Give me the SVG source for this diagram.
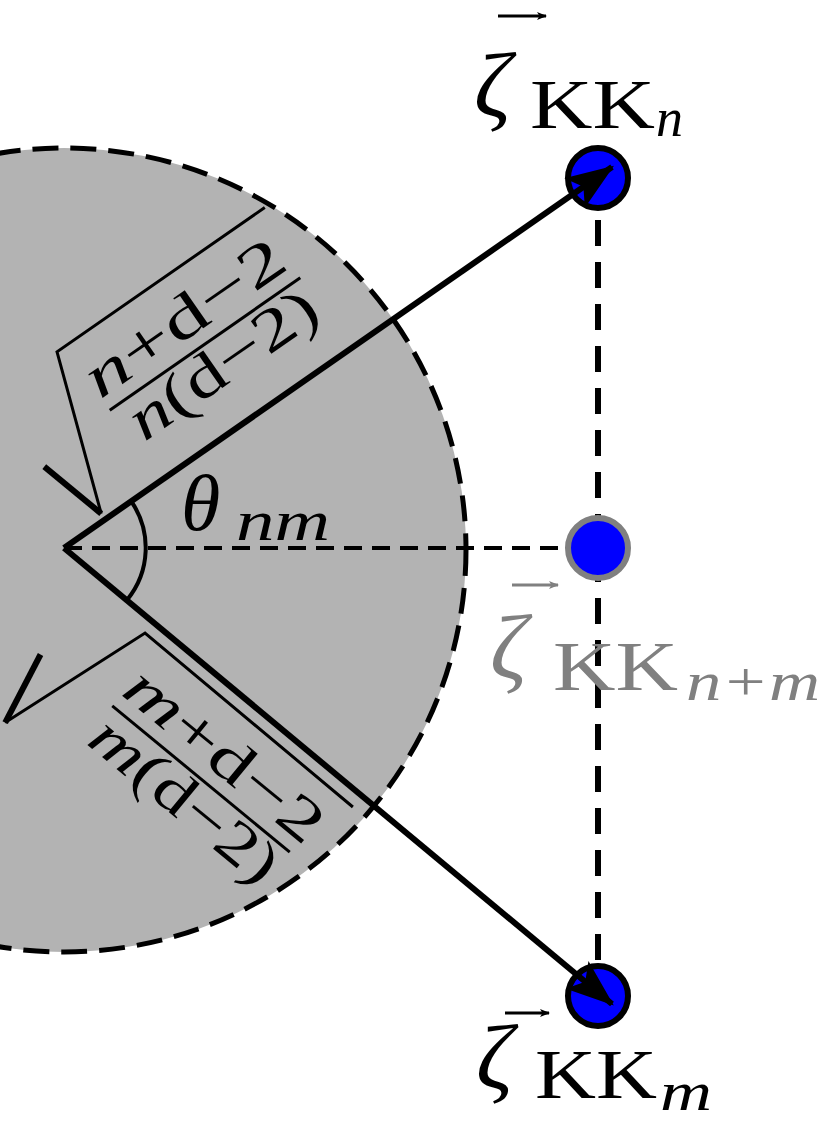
<svg xmlns="http://www.w3.org/2000/svg" width="830" height="1142" viewBox="0 0 830 1142">
<style>
.t{font-family:"Liberation Serif","DejaVu Serif",serif;fill:#000}
.g{fill:#808080}
.i{font-style:italic}
.rad{fill:none;stroke:#000;stroke-width:3;stroke-linejoin:miter}
.dot{fill:#0000ff;stroke:#000;stroke-width:6}
</style>
<defs>
<marker id="ah" viewBox="0 0 20 16" refX="18" refY="8" markerWidth="10" markerHeight="8" markerUnits="userSpaceOnUse" orient="auto">
<path d="M0,0 L20,8 L0,16 L5,8 Z" fill="context-stroke"/>
</marker>
<marker id="big" viewBox="0 0 40 30" refX="38" refY="15" markerWidth="48" markerHeight="36" markerUnits="userSpaceOnUse" orient="auto">
<path d="M0,0 L40,15 L0,30 L9,15 Z" fill="#000"/>
</marker>
</defs>
<rect width="830" height="1142" fill="#fff"/>
<g id="disk">
<circle cx="64" cy="550" r="402" fill="#b3b3b3" stroke="#000" stroke-width="5" stroke-dasharray="26,12"/>
</g>
<g id="guides" fill="none" stroke="#000">
<line x1="598" y1="178" x2="598" y2="996" stroke-width="6" stroke-dasharray="26,16"/>
<line x1="64" y1="548" x2="570" y2="548" stroke-width="4" stroke-dasharray="18,10"/>
<path d="M131,501 A82,82 0 0 1 127,600" stroke-width="4"/>
</g>
<g id="node-n">
<circle class="dot" cx="598" cy="178" r="30"/>
<line x1="498" y1="16" x2="546" y2="16" stroke="#000" stroke-width="3" marker-end="url(#ah)"/>
<text class="t i" x="474" y="116" font-size="92">ζ</text>
<text class="t" x="530" y="128" font-size="70" textLength="125" lengthAdjust="spacingAndGlyphs">KK</text>
<text class="t i" x="656" y="136" font-size="54">n</text>
</g>
<g id="node-nm">
<circle class="dot" cx="598" cy="548" r="30" style="stroke:#808080"/>
<line x1="512" y1="585" x2="558" y2="585" stroke="#808080" stroke-width="3" marker-end="url(#ah)"/>
<text class="t g i" x="490" y="678" font-size="92">ζ</text>
<text class="t g" x="553" y="690" font-size="70" textLength="125" lengthAdjust="spacingAndGlyphs">KK</text>
<text class="t g i" x="686" y="700" font-size="54" textLength="134" lengthAdjust="spacingAndGlyphs">n+m</text>
</g>
<g id="node-m">
<circle class="dot" cx="598" cy="996" r="30"/>
<line x1="505" y1="1013" x2="549" y2="1013" stroke="#000" stroke-width="3" marker-end="url(#ah)"/>
<text class="t i" x="476" y="1088" font-size="92">ζ</text>
<text class="t" x="535" y="1098" font-size="70" textLength="122" lengthAdjust="spacingAndGlyphs">KK</text>
<text class="t i" x="660" y="1110" font-size="54" textLength="52" lengthAdjust="spacingAndGlyphs">m</text>
</g>
<g id="connectors" fill="none" stroke="#000">
<line x1="64" y1="548" x2="612" y2="167" stroke-width="6" marker-end="url(#big)"/>
<line x1="64" y1="548" x2="612" y2="1004" stroke-width="6" marker-end="url(#big)"/>
</g>
<g id="theta">
<text class="t i" x="181" y="530" font-size="80">θ</text>
<text class="t i" x="236" y="540" font-size="58" textLength="94" lengthAdjust="spacingAndGlyphs">nm</text>
</g>
<g id="sqrt-n" transform="translate(205,344) rotate(-34.8)">
<path class="rad" d="M-182,80 L-126,-78 L127,-78"/>
<path d="M-202,9 L-182,80" stroke="#000" stroke-width="6" fill="none"/>
<line x1="-116" y1="0" x2="116" y2="0" stroke="#000" stroke-width="3"/>
<text class="t" x="-118" y="-14" font-size="60" textLength="232" lengthAdjust="spacingAndGlyphs"><tspan class="i">n</tspan>+d−2</text>
<text class="t" x="-106" y="46" font-size="60" textLength="218" lengthAdjust="spacingAndGlyphs"><tspan class="i">n</tspan>(d−2)</text>
</g>
<g id="sqrt-m" transform="translate(201,779) rotate(39.5)">
<path class="rad" d="M-187,81 L-136,-77 L135,-75"/>
<path d="M-203,6 L-187,81" stroke="#000" stroke-width="6" fill="none"/>
<line x1="-115" y1="0" x2="115" y2="0" stroke="#000" stroke-width="3"/>
<text class="t" x="-117" y="-14" font-size="60" textLength="240" lengthAdjust="spacingAndGlyphs"><tspan class="i">m</tspan>+d−2</text>
<text class="t" x="-112" y="46" font-size="60" textLength="226" lengthAdjust="spacingAndGlyphs"><tspan class="i">m</tspan>(d−2)</text>
</g>
</svg>
